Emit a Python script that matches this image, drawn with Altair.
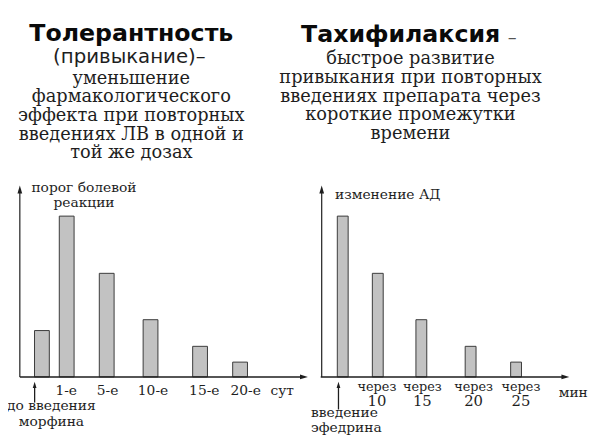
import altair as alt
import pandas as pd

# ---------------- data ----------------
left_labels = ["до введения", "1-е", "5-е", "10-е", "15-е", "20-е"]
left_values = [47, 163, 105, 58, 31, 15]
left_slots = [18, 44, 86, 132, 184, 226]

right_top = ["через", "через", "через", "через", "через"]
right_labels = ["0", "10", "15", "20", "25"]
right_values = [163, 105, 58, 31, 15]
right_slots = [17, 54, 100, 152, 200]

left_df = pd.DataFrame({"pos": left_slots, "val": left_values, "lab": left_labels})
right_df = pd.DataFrame({"pos2": right_slots, "val": right_values,
                         "top": right_top, "lab": right_labels})
one = pd.DataFrame({"a": [0]})

M = 8  # page margin
INK = "#1e1e1e"
SERIF = "DejaVu Serif"
SANS = "DejaVu Sans"


def P(v):
    return v - M


def txt(s, x, y, size=14, font=SERIF, weight="normal", color=INK, align="center"):
    return alt.Chart(one).mark_text(
        text=s, font=font, fontSize=size, fontWeight=weight, color=color,
        align=align, baseline="middle"
    ).encode(x=alt.value(P(x)), y=alt.value(P(y)))


def lines(items, x, y0, step, **kw):
    return [txt(s, x, y0 + i * step, **kw) for i, s in enumerate(items)]


def hrule(x1, x2, y, w=1.5):
    return alt.Chart(one).mark_rule(color=INK, strokeWidth=w).encode(
        x=alt.value(P(x1)), x2=alt.value(P(x2)), y=alt.value(P(y)))


def vrule(x, y1, y2, w=1.2):
    return alt.Chart(one).mark_rule(color=INK, strokeWidth=w).encode(
        x=alt.value(P(x)), y=alt.value(P(y1)), y2=alt.value(P(y2)))


UP = "M0,-1L0.6,1L-0.6,1Z"
RIGHT = "M1,0L-1,0.6L-1,-0.6Z"


def head(shape, x, y, size=64):
    return alt.Chart(one).mark_point(shape=shape, filled=True, size=size,
                                     color=INK, opacity=1, strokeWidth=0).encode(
        x=alt.value(P(x)), y=alt.value(P(y)))


yscale = alt.Scale(domain=[0, 200], range=[P(379), P(179)])
lx = alt.Scale(domain=[0, 292], range=[P(20), P(312)])
rx = alt.Scale(domain=[0, 251], range=[P(326), P(577)])

left_bars = alt.Chart(left_df).mark_bar(
    size=15, fill="#c2c2c2", stroke="#3a3a3a", strokeWidth=1
).encode(
    x=alt.X("pos:Q", scale=lx, axis=None),
    y=alt.Y("val:Q", scale=yscale, axis=None),
)
left_ticks = alt.Chart(left_df[left_df["lab"] != "до введения"]).mark_text(
    font=SERIF, fontSize=14, color=INK, baseline="middle", dx=3
).encode(
    x=alt.X("pos:Q", scale=lx, axis=None),
    y=alt.value(P(393)),
    text="lab:N",
)

right_bars = alt.Chart(right_df).mark_bar(
    size=11, fill="#c2c2c2", stroke="#3a3a3a", strokeWidth=1
).encode(
    x=alt.X("pos2:Q", scale=rx, axis=None),
    y=alt.Y("val:Q", scale=yscale, axis=None),
)
rdf = right_df[right_df["lab"] != "0"]
right_top_t = alt.Chart(rdf).mark_text(
    font=SERIF, fontSize=13, color=INK, baseline="middle", dx=2
).encode(
    x=alt.X("pos2:Q", scale=rx, axis=None),
    y=alt.value(P(389)),
    text="top:N",
)
right_num_t = alt.Chart(rdf).mark_text(
    font=SERIF, fontSize=15, color=INK, baseline="middle", dx=2
).encode(
    x=alt.X("pos2:Q", scale=rx, axis=None),
    y=alt.value(P(403)),
    text="lab:N",
)

layers = [left_bars, left_ticks, right_bars, right_top_t, right_num_t]

# axes
layers += [
    vrule(20, 190, 379), head(UP, 20, 189),
    hrule(20, 308, 379, 1.6), head(RIGHT, 308, 379),
    vrule(326, 190, 379), head(UP, 326, 189),
    hrule(325, 573, 379, 1.6), head(RIGHT, 573, 379),
    vrule(35, 388, 405, 1.3), head(UP, 35, 387, 40),
    vrule(343, 388, 412, 1.3), head(UP, 343, 387, 40),
]

# titles
layers += [
    txt("Толерантность", 133, 31, size=24, font=SANS, weight="bold", color="#0a0a0a"),
    txt("(привыкание)–", 131, 55, size=20, font=SANS),
]
layers += lines(["уменьшение", "фармакологического", "эффекта при повторных",
                 "введениях ЛВ в одной и", "той же дозах"], 133, 77, 18.8, size=18)

layers += [
    txt("Тахифилаксия", 406, 32, size=24, font=SANS, weight="bold", color="#0a0a0a"),
    txt("–", 519, 35, size=18, font=SANS, color="#555"),
]
layers += lines(["быстрое развитие", "привыкания при повторных",
                 "введениях препарата через", "короткие промежутки", "времени"],
                416, 57, 19, size=18)

# axis annotations
layers += [
    txt("порог болевой", 85, 188),
    txt("реакции", 85, 203),
    txt("сут", 286, 393),
    txt("до введения", 52, 409),
    txt("морфина", 52, 425),
    txt("изменение АД", 393, 195),
    txt("мин", 581, 395),
    txt("введение", 349, 416),
    txt("эфедрина", 351, 431),
]

chart = alt.layer(*layers).resolve_scale(x="independent").properties(
    width=592, height=434, padding=0, autosize="none"
).configure_view(stroke=None)

chart.save("out.html", embed_options={"renderer": "svg", "actions": False})
